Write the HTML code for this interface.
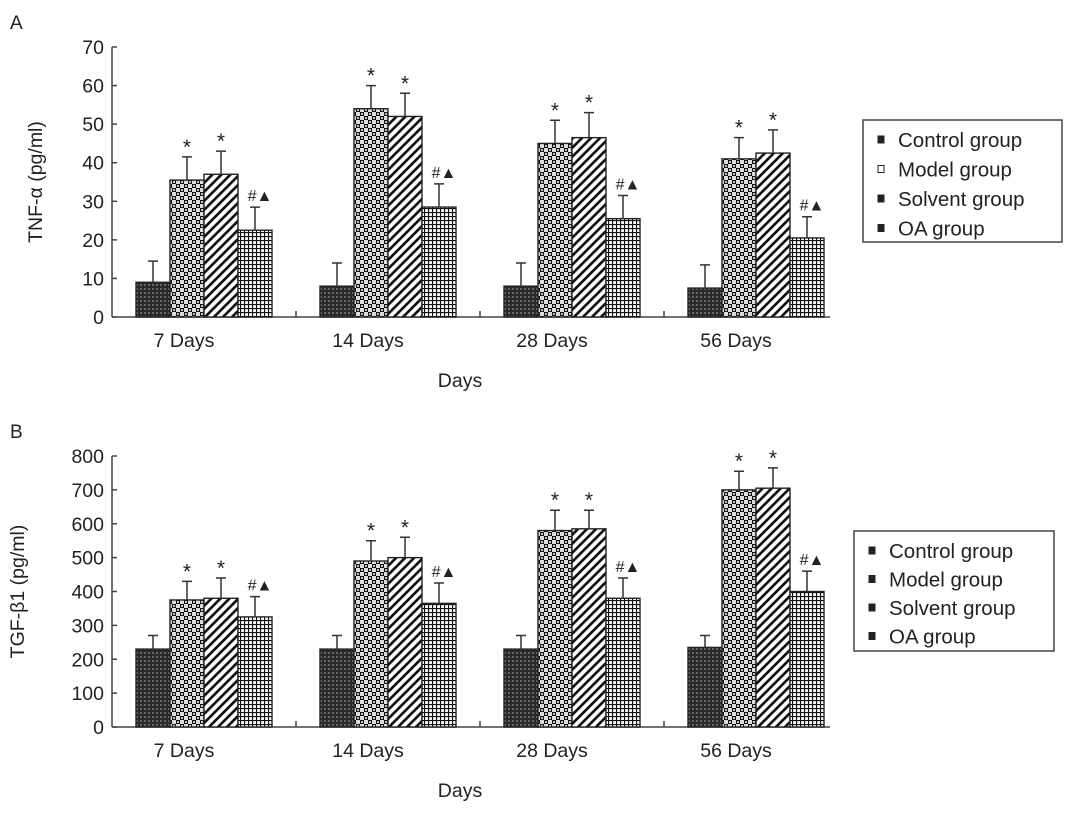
<!DOCTYPE html>
<html><head><meta charset="utf-8"><style>
body{margin:0;background:#fff;font-family:"Liberation Sans",sans-serif;}
svg text{font-family:"Liberation Sans",sans-serif;fill:#222;}
</style></head><body>
<svg id="chart" width="1079" height="815" xmlns="http://www.w3.org/2000/svg">
<defs>
<pattern id="p0" width="4" height="4" patternUnits="userSpaceOnUse"><rect width="4" height="4" fill="#2a2a2a"/><rect width="2" height="2" fill="#666"/></pattern>
<pattern id="p1" width="8" height="8" patternUnits="userSpaceOnUse"><rect width="8" height="8" fill="#ddd"/><rect width="4" height="4" fill="#111"/><rect x="4" y="4" width="4" height="4" fill="#111"/><circle cx="2" cy="2" r="1" fill="#fff"/><circle cx="6" cy="6" r="1" fill="#fff"/></pattern>
<pattern id="p2" width="9" height="9" patternUnits="userSpaceOnUse"><rect width="9" height="9" fill="#fff"/><path d="M-2,11 L11,-2 M-2,2 L2,-2 M7,11 L11,7" stroke="#111" stroke-width="2.7"/></pattern>
<pattern id="p3" width="4" height="4" patternUnits="userSpaceOnUse"><rect width="4" height="4" fill="#fff"/><path d="M0,0.5H4M0.5,0V4" stroke="#111" stroke-width="1.3"/></pattern>
</defs>
<g id="panelA"></g>
<g id="panelB"></g>
</svg>
<script>
const categories = ["7 Days","14 Days","28 Days","56 Days"];
const groups = ["Control group","Model group","Solvent group","OA group"];
const aControl = [9, 8, 8, 7.5];
const aModel = [35.5, 54, 45, 41];
const aSolvent = [37, 52, 46.5, 42.5];
const aOA = [22.5, 28.5, 25.5, 20.5];
const aControlErr = [5.5, 6, 6, 6];
const aModelErr = [6, 6, 6, 5.5];
const aSolventErr = [6, 6, 6.5, 6];
const aOAErr = [6, 6, 6, 5.5];
const aTicks = [0,10,20,30,40,50,60,70];
const bControl = [230, 230, 230, 235];
const bModel = [375, 490, 580, 700];
const bSolvent = [380, 500, 585, 705];
const bOA = [325, 365, 380, 400];
const bControlErr = [40, 40, 40, 35];
const bModelErr = [55, 60, 60, 55];
const bSolventErr = [60, 60, 55, 60];
const bOAErr = [60, 60, 60, 60];
const bTicks = [0,100,200,300,400,500,600,700,800];
const NS="http://www.w3.org/2000/svg";
function mk(parent,tag,attrs,text){const e=document.createElementNS(NS,tag);for(const k in attrs)e.setAttribute(k,attrs[k]);if(text!==undefined)e.textContent=text;parent.appendChild(e);return e;}
function drawPanel(g,cfg){
  const x0=112,catW=184,barW=34;
  const y=v=>cfg.base-(v/cfg.max)*(cfg.base-cfg.top);
  const xc=i=>x0+catW*i+catW/2;
  let e=mk(g,'text',{x:10,y:cfg.top-18,'font-size':19},cfg.letter);
  
  
  e=mk(g,'line',{x1:x0,y1:cfg.top,x2:x0,y2:cfg.base,stroke:'#444','stroke-width':1.5});
  
  
  e=mk(g,'line',{x1:x0,y1:cfg.base,x2:x0+catW*4-18,y2:cfg.base,stroke:'#444','stroke-width':1.5});
  
  
  cfg.ticks.forEach(t=>{
    e=mk(g,'line',{x1:x0,y1:y(t),x2:x0+5,y2:y(t),stroke:'#444','stroke-width':1.5});
    
    
    e=mk(g,'text',{x:x0-8,y:y(t)+7,'font-size':19.5,'text-anchor':'end'},t);
    
    
  });
  for(let i=1;i<4;i++){e=mk(g,'line',{x1:x0+catW*i,y1:cfg.base,x2:x0+catW*i,y2:cfg.base-6,stroke:'#444','stroke-width':1.5});
    
    }
  categories.forEach((c,i)=>{
    e=mk(g,'text',{x:xc(i)-20,y:cfg.base+30,'font-size':19.5,'text-anchor':'middle'},c);
    
    
    cfg.series.forEach((s,j)=>{
      const bx=xc(i)-2*barW+j*barW, v=s.v[i], top=y(v);
      e=mk(g,'rect',{x:bx,y:top,width:barW,height:cfg.base-top,fill:`url(#${cfg.pats[j]})`,stroke:'#222','stroke-width':1.4});
      
      
      const et=y(v+s.e[i]), cx=bx+barW/2;
      e=mk(g,'path',{d:`M${cx},${top}V${et}M${cx-5},${et}H${cx+5}`,stroke:'#333','stroke-width':1.5,fill:'none'});
      
      
      if(j===1||j===2){e=mk(g,'text',{x:cx,y:et-3,'font-size':21,'text-anchor':'middle',fill:'#666'},'*');
        
        }
      if(j===3){e=mk(g,'text',{x:cx+5,y:et-6,'font-size':16,'text-anchor':'middle'},'#▲');
        
        }
    });
  });
  e=mk(g,'text',{x:x0+catW*2-20,y:cfg.base+70,'font-size':19.5,'text-anchor':'middle'},'Days');
  
  
  const my=(cfg.top+cfg.base)/2;
  e=mk(g,'text',{x:cfg.ytx,y:my,'font-size':19.5,'text-anchor':'middle',transform:`rotate(-90 ${cfg.ytx} ${my})`},cfg.ytitle);
  
  
  const L=cfg.legend;
  e=mk(g,'rect',{x:L.x,y:L.y,width:L.w,height:L.h,fill:'#fff',stroke:'#444','stroke-width':1.5});
  
  
  groups.forEach((gname,j)=>{
    const ly=L.y+20+j*L.step;
    e=mk(g,'rect',{x:L.x+15,y:ly-4,width:6,height:7,fill:j===1&&cfg.letter==='A'?'#fff':'#222',stroke:'#222'});
    
    
    e=mk(g,'text',{x:L.x+35,y:ly+7,'font-size':20.5},gname);
    
    
  });
}
drawPanel(document.getElementById('panelA'),{letter:'A',top:47,base:317,max:70,ticks:aTicks,ytx:42,ytitle:'TNF-α (pg/ml)',
  pats:['p0','p1','p2','p3'],
  series:[{v:aControl,e:aControlErr},{v:aModel,e:aModelErr},{v:aSolvent,e:aSolventErr},{v:aOA,e:aOAErr}],
  legend:{x:863,y:120,w:199,h:122,step:29.5}});
drawPanel(document.getElementById('panelB'),{letter:'B',top:456,base:727,max:800,ticks:bTicks,ytx:24,ytitle:'TGF-β1 (pg/ml)',
  pats:['p0','p1','p2','p3'],
  series:[{v:bControl,e:bControlErr},{v:bModel,e:bModelErr},{v:bSolvent,e:bSolventErr},{v:bOA,e:bOAErr}],
  legend:{x:854,y:531,w:200,h:120,step:28.5}});
</script>
</body></html>
